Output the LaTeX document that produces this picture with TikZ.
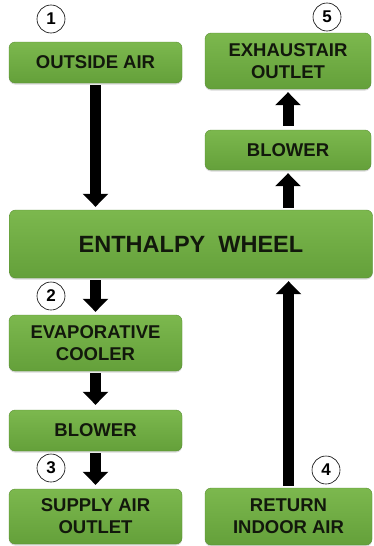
\documentclass[tikz,border=0pt]{standalone}
\usepackage{fontspec}
\setmainfont{Liberation Sans}
\usepackage{tikz}
\usetikzlibrary{arrows.meta}
\usetikzlibrary{shadows}
\definecolor{erv-green0}{RGB}{124, 184, 78}
\definecolor{erv-green1}{RGB}{100, 160, 58}
\definecolor{erv-text}{RGB}{18, 24, 12}

\begin{document}
\begin{tikzpicture}[x=1pt, y=-1pt,
    box/.style={rectangle, rounded corners=6pt, top color=erv-green0, bottom color=erv-green1,
      draw=erv-green1!90!black, line width=0.4pt,
      drop shadow={shadow xshift=0pt, shadow yshift=-1.5pt, opacity=0.3},
      text=erv-text, font=\bfseries\fontsize{18.5}{22}\selectfont, align=center, inner sep=0pt},
    num/.style={circle, draw, line width=0.6pt, fill=white, minimum size=28pt, inner sep=0pt,
      font=\bfseries\fontsize{17}{17}\selectfont},
    flow/.style={line width=11pt, -{Triangle[width=25pt, length=13pt]}, shorten <=2pt, shorten >=3pt}]
  \useasboundingbox (0, 0) rectangle (374, 546);

  \node[box, minimum width=173pt, minimum height=41pt] (outside) at (95.5, 62.5) {OUTSIDE AIR};
  \node[box, minimum width=166pt, minimum height=56pt] (exhaust) at (288, 61) {EXHAUSTAIR\\OUTLET};
  \node[box, minimum width=166pt, minimum height=40pt] (blowerR) at (288, 150) {BLOWER};
  \node[box, minimum width=363pt, minimum height=68pt, font=\bfseries\fontsize{23.5}{26}\selectfont] (wheel) at (191, 244) {ENTHALPY\ \ WHEEL};
  \node[box, minimum width=173pt, minimum height=56pt] (evap) at (95.5, 343) {EVAPORATIVE\\COOLER};
  \node[box, minimum width=173pt, minimum height=41pt] (blowerL) at (95.5, 430.5) {BLOWER};
  \node[box, minimum width=173pt, minimum height=55pt] (supply) at (95.5, 516.5) {SUPPLY AIR\\OUTLET};
  \node[box, minimum width=167pt, minimum height=57pt] (return) at (288.5, 516.5) {RETURN\\INDOOR AIR};

  \draw[flow] (outside.south) -- (outside.south |- wheel.north);
  \draw[flow] (wheel.south -| evap.north) -- (evap.north);
  \draw[flow, shorten >=5pt] (evap.south) -- (blowerL.north);
  \draw[flow, shorten >=4pt] (blowerL.south) -- (supply.north);
  \draw[flow] (return.north) -- (return.north |- wheel.south);
  \draw[flow] (wheel.north -| blowerR.south) -- (blowerR.south);
  \draw[flow, shorten <=4pt] (blowerR.north) -- (exhaust.south);

  \node[num] (n1) at (51, 19) {1};
  \node[num] (n2) at (51, 296) {2};
  \node[num] (n3) at (51, 468) {3};
  \node[num] (n4) at (326, 470) {4};
  \node[num] (n5) at (327, 17) {5};
\end{tikzpicture}
\end{document}
